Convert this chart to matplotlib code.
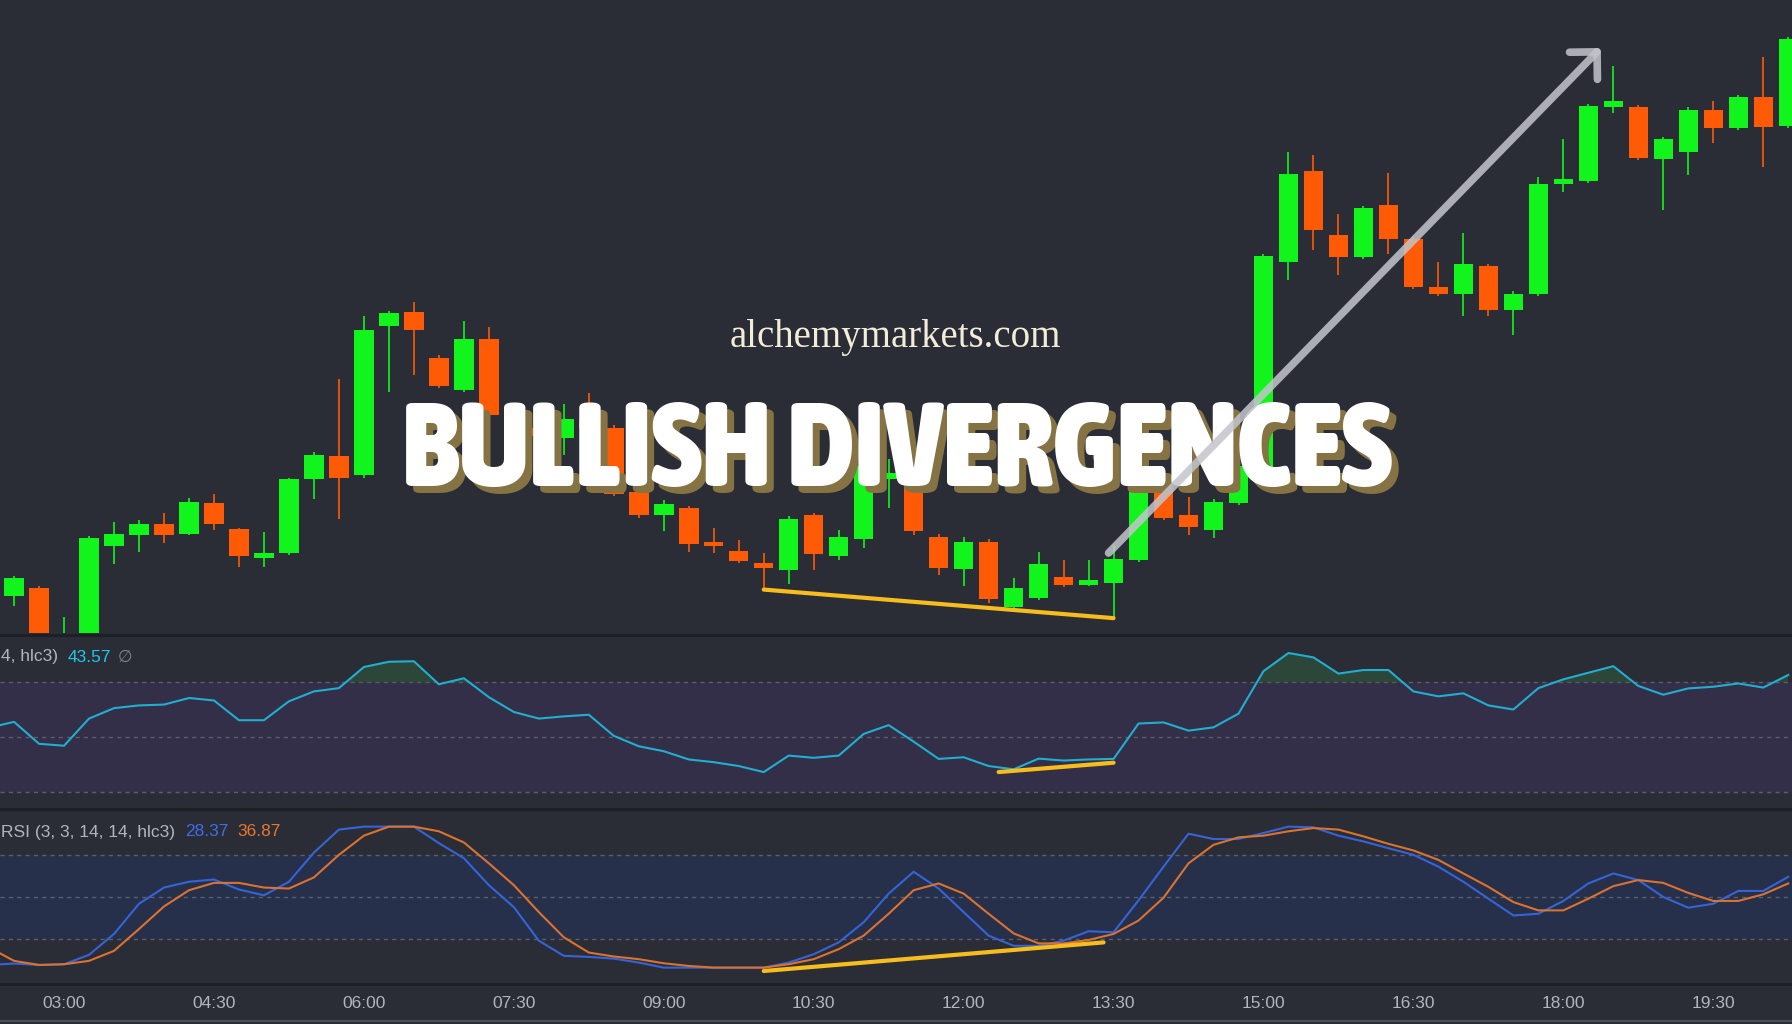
import numpy as np
import matplotlib
matplotlib.use('Agg')
import matplotlib.pyplot as plt
from matplotlib import font_manager, transforms
from matplotlib.font_manager import FontProperties
from matplotlib.patches import FancyArrowPatch
from matplotlib.lines import Line2D

# 15-minute candles, 02:15 .. 20:15
opens = [2347.0, 2347.8, 2348.5, 2343.0, 2342.2, 2352.2, 2353.2, 2354.1, 2353.3, 2356.0,
         2353.7, 2351.2, 2351.6, 2358.1, 2360.1, 2358.4, 2371.5, 2372.7, 2368.7, 2365.9,
         2370.3, 2363.4, 2362.5, 2361.7, 2363.1, 2362.5, 2356.9, 2354.9, 2355.5, 2352.6,
         2351.8, 2350.7, 2350.1, 2354.9, 2351.3, 2352.8, 2358.1, 2360.0, 2353.0, 2350.2,
         2352.6, 2346.9, 2347.7, 2349.5, 2348.8, 2349.0, 2351.0, 2357.5, 2354.9, 2353.6,
         2356.0, 2359.0, 2377.1, 2385.0, 2379.4, 2377.5, 2382.1, 2379.1, 2374.9, 2374.3,
         2376.7, 2372.9, 2374.3, 2383.9, 2384.2, 2390.6, 2390.6, 2386.1, 2386.7, 2390.4,
         2388.8, 2391.5, 2389.0]
highs = [2348.5, 2349.6, 2348.7, 2346.0, 2353.1, 2354.3, 2354.5, 2355.1, 2356.4, 2356.8,
         2353.8, 2353.4, 2358.2, 2360.4, 2366.8, 2372.3, 2372.8, 2373.6, 2368.9, 2371.9,
         2371.4, 2363.8, 2362.8, 2364.6, 2365.6, 2362.8, 2357.1, 2356.2, 2355.7, 2353.8,
         2352.7, 2351.6, 2354.8, 2355.1, 2353.6, 2360.2, 2359.8, 2360.5, 2353.3, 2353.0,
         2352.8, 2349.4, 2351.7, 2351.0, 2351.0, 2352.3, 2359.5, 2358.0, 2356.5, 2356.3,
         2360.0, 2377.8, 2386.7, 2386.4, 2381.3, 2382.0, 2384.9, 2379.3, 2377.1, 2379.6,
         2376.9, 2374.5, 2384.5, 2387.8, 2390.9, 2394.2, 2390.8, 2388.0, 2390.6, 2391.2,
         2391.7, 2395.0, 2396.8]
lows = [2346.5, 2347.0, 2342.0, 2341.5, 2341.5, 2350.6, 2351.7, 2352.5, 2353.2, 2353.6,
        2350.4, 2350.4, 2351.4, 2356.3, 2354.6, 2358.2, 2365.7, 2367.2, 2366.0, 2365.7,
        2363.4, 2362.2, 2361.4, 2360.2, 2362.0, 2356.6, 2354.7, 2353.5, 2351.7, 2351.6,
        2350.7, 2348.4, 2348.9, 2350.1, 2351.0, 2352.0, 2355.5, 2353.2, 2349.7, 2348.7,
        2347.2, 2346.7, 2347.5, 2348.6, 2348.7, 2345.9, 2350.8, 2354.5, 2353.2, 2352.9,
        2355.8, 2358.8, 2375.5, 2378.1, 2375.9, 2377.3, 2377.8, 2374.7, 2374.1, 2372.3,
        2372.3, 2370.7, 2374.1, 2383.2, 2384.0, 2390.1, 2386.0, 2381.6, 2384.7, 2387.5,
        2388.6, 2385.4, 2388.8]
closes = [2348.0, 2349.4, 2342.5, 2343.8, 2352.9, 2353.3, 2354.1, 2353.2, 2356.1, 2354.1,
          2351.3, 2351.6, 2358.1, 2360.2, 2358.2, 2371.1, 2372.6, 2371.1, 2366.2, 2370.3,
          2363.7, 2362.8, 2361.8, 2363.3, 2362.5, 2356.8, 2354.9, 2355.9, 2352.4, 2352.2,
          2350.9, 2350.3, 2354.6, 2351.5, 2353.0, 2359.2, 2358.6, 2353.5, 2350.3, 2352.6,
          2347.6, 2348.5, 2350.6, 2348.8, 2349.2, 2351.1, 2358.8, 2354.7, 2353.9, 2356.1,
          2359.2, 2377.6, 2384.8, 2379.9, 2377.5, 2381.8, 2379.1, 2374.9, 2374.3, 2376.9,
          2372.9, 2374.3, 2383.9, 2384.3, 2390.7, 2391.2, 2386.2, 2387.8, 2390.4, 2388.8,
          2391.5, 2388.9, 2396.6]

rsi = [53.5, 55.6, 47.6, 46.9, 56.8, 60.6, 61.6, 61.9, 64.3, 63.4, 56.2, 56.2, 63.1,
       66.7, 67.9, 75.6, 77.5, 77.7, 69.3, 71.5, 64.6, 59.2, 56.8, 57.6, 58.2, 50.5,
       46.7, 44.9, 41.9, 40.9, 39.5, 37.3, 43.3, 42.5, 43.3, 51.2, 54.4, 48.4, 42.1,
       42.7, 39.5, 38.3, 42.2, 41.5, 41.9, 42.1, 55.0, 55.4, 52.4, 53.6, 58.6, 74.1,
       80.7, 79.1, 73.2, 74.5, 74.5, 66.7, 64.9, 66.0, 61.6, 60.1, 67.9, 71.1, 73.5,
       75.9, 68.7, 65.5, 67.8, 68.4, 69.6, 68.1, 72.7]

stoch_k = [1.9, 2.9, 1.9, 2.4, 9.1, 23.9, 45.3, 56.8, 60.9, 62.5, 55.4, 51.3, 60.9,
           81.6, 97.9, 100, 100, 100, 88.3, 77.6, 58.5, 42.9, 19.1, 8.4, 7.6, 6.4,
           3.6, 0, 0, 0, 0, 0, 3.6, 9.5, 17.9, 32.2, 52.5, 68.0, 56.1, 39.4, 22.7,
           15.5, 15.5, 19.1, 25.8, 25.1, 47.7, 71.6, 95.0, 91.2, 91.2, 95.5, 100, 99.5,
           93.6, 89.5, 84.7, 80.0, 71.6, 60.9, 48.9, 37.0, 38.2, 47.3, 59.7, 66.8, 62.1,
           50.1, 42.5, 45.3, 54.4, 54.4, 64.4]
stoch_d = [14.3, 4.8, 1.9, 2.4, 4.8, 11.9, 27.4, 43.4, 54.9, 60.1, 60.1, 56.8, 56.1,
           64.0, 80, 93.6, 100, 100, 96.7, 88.8, 74.0, 58.5, 39.4, 21.5, 10.7, 7.9,
           6.0, 3.1, 1.2, 0, 0, 0, 2.4, 6.0, 13.1, 22.7, 38.2, 54.9, 59.7, 52.5, 38.2,
           24.3, 17.2, 17.2, 19.6, 23.9, 33.4, 49.6, 74.0, 87.1, 92.4, 93.6, 96.7, 99.0,
           97.9, 93.1, 87.8, 83.1, 76.4, 66.8, 57.3, 46.5, 40.6, 40.6, 48.9, 57.8, 62.1,
           60.1, 53.0, 47.3, 47.3, 52.0, 59.7]

time_ticks = ['03:00', '04:30', '06:00', '07:30', '09:00', '10:30', '12:00',
              '13:30', '15:00', '16:30', '18:00', '19:30']

# divergence lines (candle index, value)
div_price_idx = [30, 44]
div_rsi = ([39.4, 44.0], [37.3, 40.7])
div_stoch = ([30.0, 43.6], [-2.4, 17.9])
arrow_from = (43.8, 2351.6)
arrow_to = (63.5, 2395.8)

# pane legends as far as they are visible (left part is cut off in the source)
rsi_label = '4, hlc3)'
rsi_value = '43.57'
stoch_label = 'RSI (3, 3, 14, 14, hlc3)'
stoch_values = ['28.37', '36.87']

# ---------------------------------------------------------------
opens, highs, lows, closes = map(np.array, (opens, highs, lows, closes))
rsi, stoch_k, stoch_d = map(np.array, (rsi, stoch_k, stoch_d))
x = np.arange(-1, len(opens) - 1)
minutes = 2 * 60 + 15 + 15 * (x + 1)
labels = ['%02d:%02d' % (m // 60, m % 60) for m in minutes]
tick_pos = [x[labels.index(t)] for t in time_ticks]

ttf = font_manager.fontManager.ttflist
names = {f.name for f in ttf}
sans = 'Liberation Sans' if 'Liberation Sans' in names else 'DejaVu Sans'
serif = 'Liberation Serif' if 'Liberation Serif' in names else 'DejaVu Serif'


def bold_of(f):
    w = f.weight
    return (w >= 700) if isinstance(w, int) else w in ('bold', 'heavy', 'black', 'extra bold')


def title_font():
    for f in ttf:
        if ('Narrow' in f.name or 'Condensed' in f.name) and bold_of(f):
            return FontProperties(fname=f.fname)
    for f in ttf:
        if f.stretch in ('condensed', 'semi-condensed') and bold_of(f):
            return FontProperties(fname=f.fname)
    return FontProperties(family='DejaVu Sans', weight='bold')


BG = '#2a2d36'
GREEN = '#12f51c'
ORANGE = '#ff5a05'
GRID = '#5c5f6a'
TXT = '#b2b5be'
YELLOW = '#f7bd1c'

W, H = 1792, 1024
fig = plt.figure(figsize=(W / 100, H / 100), dpi=100, facecolor=BG)


def px_axes(top, bottom):
    return fig.add_axes([0, 1 - bottom / H, 1, (bottom - top) / H])


ax = px_axes(0, 633)
ax_rsi = px_axes(636, 808)
ax_st = px_axes(810, 983)
xlim = (-0.563, 71.15)
for a in (ax, ax_rsi, ax_st):
    a.set_facecolor(BG)
    a.set_xlim(*xlim)
    for s in a.spines.values():
        s.set_visible(False)
    a.set_yticks([])
    a.set_xticks([])

# price candles
up = closes >= opens
colors = np.where(up, GREEN, ORANGE)
body_low = np.minimum(opens, closes)
body_h = np.maximum(np.abs(closes - opens), 0.35)
ax.vlines(x, lows, highs, colors=colors, lw=1.2, zorder=2)
ax.bar(x, body_h, bottom=body_low, width=0.78, color=colors, zorder=3)
ax.set_ylim(2344.6, 2400)
ax.plot(div_price_idx, lows[[i + 1 for i in div_price_idx]], color=YELLOW,
        lw=3, solid_capstyle='round', zorder=4)

# title texts
ax.text(895 / W, 1 - 338 / H, 'alchemymarkets.com', transform=fig.transFigure,
        ha='center', va='center', fontsize=28, family=serif, color='#f3ecd8', zorder=6)

fp = title_font()
fp.set_size(72)
renderer = fig.canvas.get_renderer()
probe = fig.text(0, 0, 'BULLISH DIVERGENCES', fontproperties=fp)
width = probe.get_window_extent(renderer=renderer).width
probe.remove()
fp.set_size(72 * 990 / width)

shadow = transforms.offset_copy(fig.transFigure, fig=fig, x=5, y=-5, units='points')
ax.text(897 / W, 1 - 486 / H, 'BULLISH DIVERGENCES', transform=shadow,
        ha='center', va='baseline', fontproperties=fp, color='#857343', zorder=6)
ax.text(897 / W, 1 - 486 / H, 'BULLISH DIVERGENCES', transform=fig.transFigure,
        ha='center', va='baseline', fontproperties=fp, color='white', zorder=7)

arrow = FancyArrowPatch(arrow_from, arrow_to,
                        arrowstyle='->, head_length=0.7, head_width=0.7',
                        mutation_scale=20, lw=5.5, color='#c4c5cc', alpha=0.85,
                        capstyle='round', joinstyle='round', shrinkA=0, shrinkB=0,
                        zorder=8)
ax.add_patch(arrow)

# RSI panel
ax_rsi.set_ylim(24.2, 86.9)
ax_rsi.axhspan(30, 70, color='#332f48', lw=0, zorder=0)
for lvl in (30, 50, 70):
    ax_rsi.axhline(lvl, color=GRID, lw=1, ls=(0, (3, 3)), zorder=1)
ax_rsi.fill_between(x, 70, rsi, where=rsi > 70, interpolate=True,
                    color='#2f5a3e', alpha=0.6, lw=0, zorder=1)
ax_rsi.plot(x, rsi, color='#22aed0', lw=1.5, zorder=3)
ax_rsi.plot(*div_rsi, color=YELLOW, lw=3, solid_capstyle='round', zorder=4)

# Stoch RSI panel
ax_st.set_ylim(-10.9, 111.8)
ax_st.axhspan(20, 80, color='#26304a', lw=0, zorder=0)
for lvl in (20, 50, 80):
    ax_st.axhline(lvl, color=GRID, lw=1, ls=(0, (3, 3)), zorder=1)
ax_st.plot(x, stoch_k, color='#3564d8', lw=1.5, zorder=3)
ax_st.plot(x, stoch_d, color='#dc7230', lw=1.5, zorder=3)
ax_st.plot(*div_stoch, color=YELLOW, lw=3, solid_capstyle='round', zorder=4)
ax_st.set_xticks(tick_pos)
ax_st.set_xticklabels(time_ticks, family=sans, fontsize=12.5, color=TXT)
ax_st.tick_params(axis='x', length=0, pad=9)

# legends of the panes
fig.text(1 / W, 1 - 657 / H, rsi_label, ha='left', va='center',
         fontsize=12.5, family=sans, color=TXT)
fig.text(68 / W, 1 - 657 / H, rsi_value, ha='left', va='center',
         fontsize=12.5, family=sans, color='#22c4ea')
fig.text(118 / W, 1 - 657 / H, '\u2205', ha='left', va='center',
         fontsize=12, family=[sans, 'DejaVu Sans'], color='#80838c')
fig.text(1 / W, 1 - 832 / H, stoch_label, ha='left', va='center',
         fontsize=12.5, family=sans, color=TXT)
fig.text(185 / W, 1 - 832 / H, stoch_values[0], ha='left', va='center',
         fontsize=12.5, family=sans, color='#3d6ee8')
fig.text(237 / W, 1 - 832 / H, stoch_values[1], ha='left', va='center',
         fontsize=12.5, family=sans, color='#e8772e')

# pane separators
for yy, col, lw in ((634.5, '#1d1f26', 2.2), (809, '#1d1f26', 2.2),
                    (984, '#1d1f26', 2), (1021, '#555861', 1.2)):
    fig.add_artist(Line2D([0, 1], [1 - yy / H] * 2, transform=fig.transFigure,
                          color=col, lw=lw))

fig.savefig('out.png', dpi=100, facecolor=BG)
